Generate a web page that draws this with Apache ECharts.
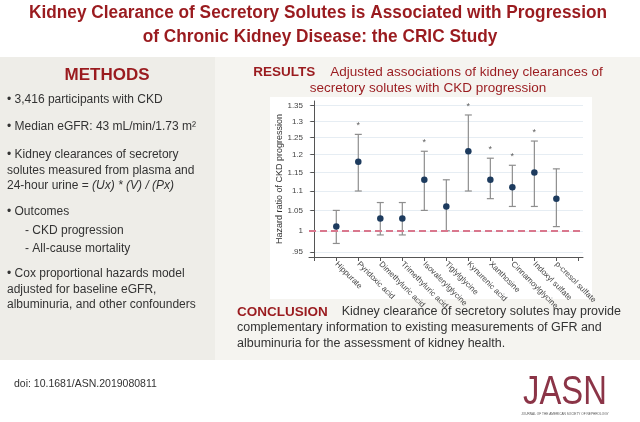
<!DOCTYPE html>
<html><head><meta charset="utf-8">
<script src="https://cdn.jsdelivr.net/npm/echarts@6/dist/echarts.min.js"></script>
<style>html,body{margin:0;padding:0;background:#fff}#c{width:640px;height:422px}</style>
</head><body><div id="c"></div>
<script>
// ---- data ----
const categories = ['Hippurate','Pyridoxic acid','Dimethyluric acid','Trimethyluric acid','Isovalerylglycine','Tiglylglycine','Kynurenic acid','Xanthosine','Cinnamoylglycine','Indoxyl sulfate','p-cresol sulfate'];
const hazardRatio = [1.01,1.18,1.03,1.03,1.13,1.06,1.21,1.13,1.11,1.15,1.08];
const ciLower     = [0.97,1.10,0.99,0.99,1.05,1.00,1.10,1.08,1.06,1.06,1.01];
const ciUpper     = [1.05,1.26,1.07,1.07,1.21,1.13,1.32,1.19,1.17,1.24,1.16];
const significant = [false,true,false,false,true,false,true,true,true,true,false];
const yTickValues = [0.95,1,1.05,1.1,1.15,1.2,1.25,1.3,1.35];
const referenceHR = 1;
const yAxisTitle = 'Hazard ratio of CKD progression';

// ---- helpers ----
const L = Math.log;
const FF = '"Liberation Sans", Arial, sans-serif';
const RED = '#9a1b1f';
const TXT = '#333333';
const mctx = document.createElement('canvas').getContext('2d');
function fit(text, font, target){ mctx.font = font; return target / mctx.measureText(text).width; }
function fmtTick(v){ const r = Math.round(Math.exp(v)*100)/100; return r < 1 ? String(r).replace(/^0/, '') : String(r); }

const chart = echarts.init(document.getElementById('c'), null, {renderer:'canvas'});

const t1 = 'Kidney Clearance of Secretory Solutes is Associated with Progression';
const t2 = 'of Chronic Kidney Disease: the CRIC Study';
const titleFont = 'bold 18px "Liberation Sans"';
const tScale = fit(t1, titleFont, 578);

function txt(x, y, text, opt){
  opt = opt || {};
  return {type:'text', x:x, y:y, scaleX: opt.scaleX || 1, z: 10,
    style:{text:text, fill: opt.fill || TXT, fontFamily: FF, fontSize: opt.size || 12,
      fontWeight: opt.weight || 'normal', textAlign: opt.align || 'left', textVerticalAlign:'middle', rich: opt.rich}};
}
const richB = {b:{fill:RED, fontWeight:'bold', fontFamily:FF, fontSize:13.5}};
const richC = {b:{fill:RED, fontWeight:'bold', fontFamily:FF, fontSize:13.5}};
const richI = {i:{fontStyle:'italic', fontFamily:FF, fontSize:12, fill:TXT}};

const graphics = [
  {type:'rect', shape:{x:0,y:57,width:215,height:303}, style:{fill:'#eeede8'}, z:0},
  {type:'rect', shape:{x:215,y:57,width:425,height:303}, style:{fill:'#f5f4f0'}, z:0},
  {type:'rect', shape:{x:270,y:97,width:322,height:202}, style:{fill:'#ffffff'}, z:0},
  txt(318, 13, t1, {fill:RED, size:18, weight:'bold', align:'center', scaleX:tScale}),
  txt(320, 37, t2, {fill:RED, size:18, weight:'bold', align:'center', scaleX:tScale}),
  txt(107, 75, 'METHODS', {fill:RED, size:17, weight:'bold', align:'center'}),
  txt(7, 100, '• 3,416 participants with CKD', {size:12}),
  txt(7, 127, '• Median eGFR: 43 mL/min/1.73 m²', {size:12}),
  txt(7, 155, '• Kidney clearances of secretory', {size:12}),
  txt(7, 170.5, 'solutes measured from plasma and', {size:12}),
  txt(7, 186, '24-hour urine = {i|(Ux) * (V) / (Px)}', {size:12, rich:richI}),
  txt(7, 211.5, '• Outcomes', {size:12}),
  txt(25, 230.5, '- CKD progression', {size:12}),
  txt(25, 248.5, '- All-cause mortality', {size:12}),
  txt(7, 274, '• Cox proportional hazards model', {size:12}),
  txt(7, 289.5, 'adjusted for baseline eGFR,', {size:12}),
  txt(7, 305, 'albuminuria, and other confounders', {size:12}),
  txt(428, 72, '{b|RESULTS}    Adjusted associations of kidney clearances of', {fill:RED, size:13.5, align:'center', rich:richB}),
  txt(428, 88, 'secretory solutes with CKD progression', {fill:RED, size:13.5, align:'center'}),
  txt(237, 312, '{b|CONCLUSION}    Kidney clearance of secretory solutes may provide', {size:12.5, rich:richC}),
  txt(237, 328, 'complementary information to existing measurements of GFR and', {size:12.5}),
  txt(237, 344, 'albuminuria for the assessment of kidney health.', {size:12.5}),
  txt(14, 384, 'doi: 10.1681/ASN.2019080811', {size:10.5}),
  txt(565, 393, 'JASN', {fill:'#8b3447', size:41, align:'center', scaleX:0.8}),
  txt(565, 414, 'JOURNAL OF THE AMERICAN SOCIETY OF NEPHROLOGY', {fill:'#555', size:4.2, align:'center', scaleX:0.75})
];

const xs = categories.map((c,i)=>i+1);
const errData = xs.map((x,i)=>[x, L(ciLower[i]), L(ciUpper[i])]);
const ptData = xs.map((x,i)=>[x, L(hazardRatio[i])]);
const starData = xs.map((x,i)=>significant[i] ? [x, L(ciUpper[i])] : null).filter(d=>d);

const option = {
  animation:false,
  backgroundColor:'#ffffff',
  graphic: graphics,
  grid:{left:309, right:57, top:101, bottom:165, containLabel:false},
  xAxis:{type:'value', min:-0.24, max:12.21,
    axisLine:{show:true, onZero:false, lineStyle:{color:'#555', width:1}},
    axisTick:{show:true, length:4, customValues:[0,1,2,3,4,5,6,7,8,9,10,11,12], lineStyle:{color:'#555'}},
    axisLabel:{customValues:xs, rotate:-45, margin:6, fontSize:8, color:'#444', fontFamily:FF,
      formatter:v=>categories[Math.round(v)-1] || ''},
    splitLine:{show:false}},
  yAxis:{type:'value', min:L(0.939), max:L(1.365),
    name:yAxisTitle, nameLocation:'middle', nameRotate:90, nameGap:18,
    nameTextStyle:{fontSize:9, color:'#333', fontFamily:FF},
    axisLine:{show:true, lineStyle:{color:'#555', width:1}},
    axisTick:{show:true, length:4, customValues:yTickValues.map(L), lineStyle:{color:'#555'}},
    axisLabel:{customValues:yTickValues.map(L), formatter:fmtTick, fontSize:8, color:'#444', margin:6, fontFamily:FF},
    splitLine:{show:true, lineStyle:{color:'#e6edf3', width:1}}},
  series:[
    {type:'line', data:[], silent:true,
      markLine:{symbol:'none', silent:true, label:{show:false},
        lineStyle:{color:'#d9778d', type:[7,4], width:2},
        data:[{yAxis:L(referenceHR)}]}},
    {type:'custom', data:errData, z:3, silent:true,
      renderItem:function(params, api){
        const x = api.value(0);
        const lo = api.coord([x, api.value(1)]);
        const hi = api.coord([x, api.value(2)]);
        const w = 3.5;
        const st = {stroke:'#8e8e8e', lineWidth:1.2};
        return {type:'group', children:[
          {type:'line', shape:{x1:lo[0],y1:lo[1],x2:hi[0],y2:hi[1]}, style:st},
          {type:'line', shape:{x1:lo[0]-w,y1:lo[1],x2:lo[0]+w,y2:lo[1]}, style:st},
          {type:'line', shape:{x1:hi[0]-w,y1:hi[1],x2:hi[0]+w,y2:hi[1]}, style:st}
        ]};
      }},
    {type:'scatter', data:ptData, symbol:'circle', symbolSize:6.5, z:5,
      itemStyle:{color:'#1d3b5e', opacity:1}},
    {type:'scatter', data:starData, symbolSize:0, z:5, silent:true,
      label:{show:true, position:'top', distance:4, formatter:'*', fontSize:9, color:'#333', fontFamily:FF}}
  ]
};
chart.setOption(option);
</script>
</body></html>
